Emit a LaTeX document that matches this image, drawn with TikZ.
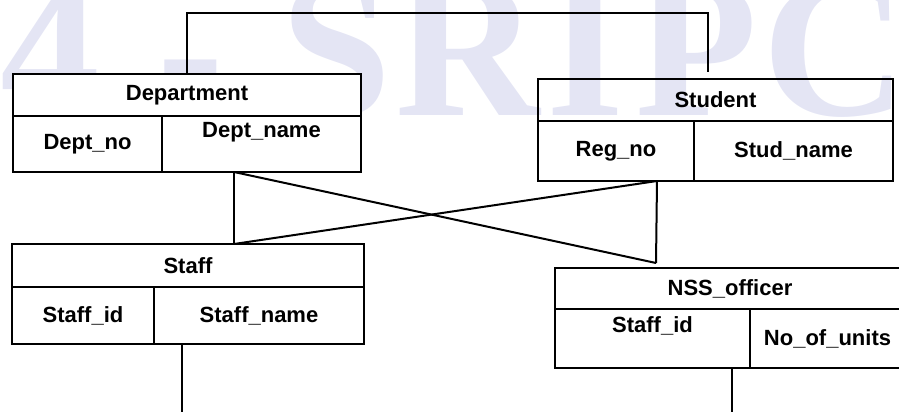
\documentclass[tikz,border=0pt]{standalone}
\usepackage{fontspec}
\setmainfont{Liberation Sans}
\newfontfamily\wmfont{Liberation Serif}
\definecolor{wmcolor}{RGB}{228,229,244}
\begin{document}
\begin{tikzpicture}[x=1pt, y=-1pt,
    cell/.style={draw, fill=white, line width=2.6pt, anchor=north west,
      inner sep=0pt, outer sep=0pt,
      font=\fontsize{22}{26}\selectfont\bfseries},
    celltext/.style={inner sep=0pt, anchor=north,
      font=\fontsize{22}{26}\selectfont\bfseries},
    conn/.style={line width=2pt},
    wmark/.style={inner sep=0pt, anchor=base, text=wmcolor,
      font=\wmfont\bfseries\fontsize{200}{200}\selectfont}]
  \useasboundingbox (0,0) rectangle (899,412);
  \clip (0,0) rectangle (899,412);

  % Wasserzeichen
  \foreach \x/\ch [count=\i] in {50/4, 191/-, 336/S, 468/R, 585/I, 697/P, 835/C}
    \node[wmark] (wm\i) at (\x,115) {\ch};

  % Department
  \node[cell, minimum width=348pt, minimum height=42pt] (dept) at (13,74) {Department};
  \node[cell, minimum width=149pt, minimum height=56pt] (deptno) at (13,116) {Dept\_no};
  \node[cell, minimum width=199pt, minimum height=56pt] (deptname) at (162,116) {};
  \node[celltext] (deptnametxt) at ([yshift=-6pt]deptname.north) {Dept\_name};

  % Student
  \node[cell, fill=none, minimum width=355pt, minimum height=42pt] (student) at (538,79) {Student};
  \node[cell, fill=none, minimum width=156pt, minimum height=60pt] (regno) at (538,121) {Reg\_no};
  \node[cell, fill=none, minimum width=199pt, minimum height=60pt] (studname) at (694,121) {Stud\_name};

  % Staff
  \node[cell, minimum width=352pt, minimum height=43pt] (staff) at (12,244) {Staff};
  \node[cell, minimum width=142pt, minimum height=57pt] (staffid) at (12,287) {Staff\_id};
  \node[cell, minimum width=210pt, minimum height=57pt] (staffname) at (154,287) {Staff\_name};

  % NSS_officer
  \node[cell, minimum width=350pt, minimum height=41pt] (nss) at (555,268) {NSS\_officer};
  \node[cell, minimum width=195pt, minimum height=59pt] (nssid) at (555,309) {};
  \node[celltext] (nssidtxt) at ([yshift=-7pt]nssid.north) {Staff\_id};
  \node[cell, minimum width=155pt, minimum height=59pt] (nssunits) at (750,309) {No\_of\_units};

  % Verbindungen
  \coordinate (da) at ([xshift=72pt]deptname.south west);
  \coordinate (sa) at ([xshift=-37pt]regno.south east);
  \coordinate (ta) at ([xshift=46pt]staff.north);
  \coordinate (na) at ([xshift=101pt,yshift=5pt]nss.north west);
  \coordinate (se) at ([xshift=-7.5pt,yshift=7pt]student.north);
  \coordinate (staffend) at ([xshift=28pt]staffname.south west);
  \coordinate (nssend) at ([xshift=-18pt]nssid.south east);

  \draw[conn] (dept.north) -- ++(0,-61) -| (se);
  \draw[conn] (da) -- (ta);
  \draw[conn] (da) -- (na);
  \draw[conn] (sa) -- (na);
  \draw[conn] (sa) -- (ta);
  \draw[conn] (staffend) -- ++(0,70);
  \draw[conn] (nssend) -- ++(0,50);
\end{tikzpicture}
\end{document}
